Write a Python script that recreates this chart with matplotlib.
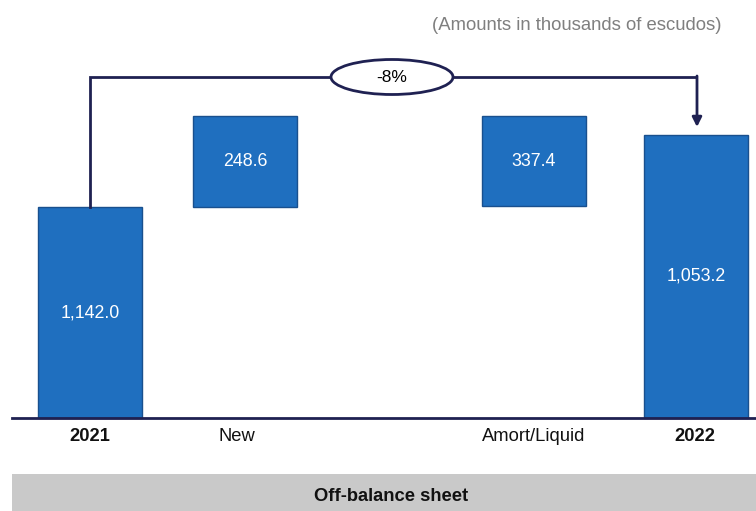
import matplotlib.pyplot as plt
from matplotlib.patches import Ellipse, Rectangle
import numpy as np

plt.rcParams['font.family'] = ['Liberation Sans', 'DejaVu Sans']

# data (thousands of escudos)
categories = ['2021', 'New', 'Amort/Liquid', '2022']
values = [1142.0, 248.6, 337.4, 1053.2]
labels = ['1,142.0', '248.6', '337.4', '1,053.2']
change = '-8%'
# bar extents as drawn in the source (schematic, not to scale)
bar_bottom = [0, 1142.0, 1147.0, 0]
bar_top = [1142.0, 1634.0, 1634.0, 1532.0]

# layout
W, H = 756, 511
x_pos = [90, 245, 534, 696]
bar_w = 104
base_px = 418                      # baseline, pixels from top
k = 211 / 1142.0                   # pixels per unit
navy = '#1f2152'
blue = '#1f6fbf'

fig = plt.figure(figsize=(W / 100, H / 100), dpi=100)
ax = fig.add_axes([0, 0, 1, 1])
ax.set_xlim(0, W)
ax.set_ylim(-(H - base_px) / k, base_px / k)
ax.axis('off')

heights = np.array(bar_top) - np.array(bar_bottom)
ax.bar(x_pos, heights, bottom=bar_bottom, width=bar_w, color=blue,
       edgecolor='#19508e', linewidth=1, zorder=2)

# value labels inside bars
for x, b, t, lab in zip(x_pos, bar_bottom, bar_top, labels):
    ax.text(x, (b + t) / 2, lab, color='white', fontsize=12.8,
            ha='center', va='center', zorder=3)

# baseline
ax.plot([12, W], [0, 0], color=navy, lw=2, zorder=3)

# category labels
label_x = [90, 237, 534, 695]
for x, c in zip(label_x, categories):
    bold = c in ('2021', '2022')
    ax.text(x, -18 / k, c, ha='center', va='center', fontsize=13.2,
            fontweight='bold' if bold else 'normal', color='#111111')

# connector with ellipse and arrow
yc = (base_px - 77) / k
ax.plot([x_pos[0], x_pos[0], 331], [bar_top[0], yc, yc], color=navy, lw=2,
        solid_joinstyle='miter', zorder=3)
ax.plot([453, x_pos[3]], [yc, yc], color=navy, lw=2, zorder=3)
ax.annotate('', xy=(x_pos[3] + 1, (base_px - 127) / k), xytext=(x_pos[3] + 1, yc + 1 / k),
            arrowprops=dict(arrowstyle='-|>', color=navy, lw=2,
                            mutation_scale=14, shrinkA=0, shrinkB=0), zorder=3)
ax.add_patch(Ellipse((392, yc), 122, 35 / k, facecolor='white',
                     edgecolor=navy, lw=2, zorder=4))
ax.text(392, yc, change, ha='center', va='center', fontsize=12.5, zorder=5)

# note
fig.text(722 / W, 1 - 25 / H, '(Amounts in thousands of escudos)', ha='right',
         va='center', fontsize=13.3, color='#7f7f7f')

# footer band
fig.patches.append(Rectangle((12 / W, 0), 1, 37 / H, transform=fig.transFigure,
                             facecolor='#c9c9c9', edgecolor='none'))
fig.text(391 / W, 15 / H, 'Off-balance sheet', ha='center', va='center',
         fontsize=13.2, fontweight='bold', color='#111111')

fig.savefig('out.png', dpi=100)
